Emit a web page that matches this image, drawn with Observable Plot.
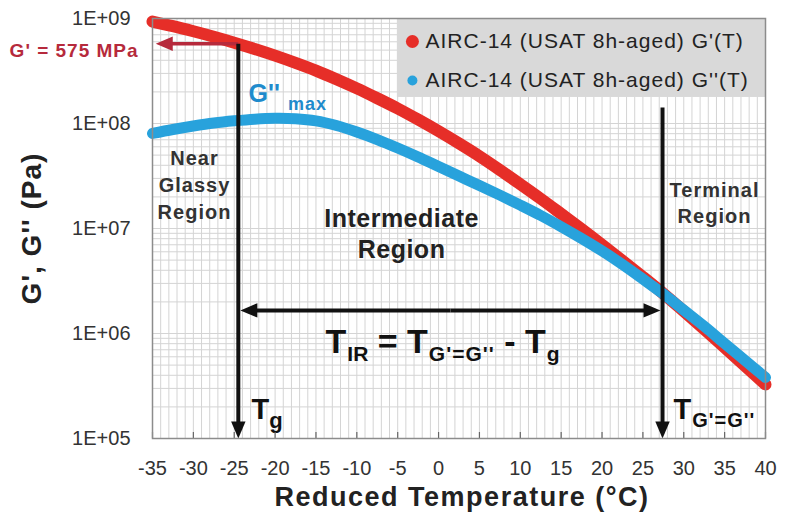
<!DOCTYPE html>
<html>
<head>
<meta charset="utf-8">
<script src="https://cdn.jsdelivr.net/npm/d3@7"></script>
<script src="https://cdn.jsdelivr.net/npm/@observablehq/plot@0.6"></script>
<style>
  html, body { margin: 0; padding: 0; background: #fff; }
  #chart { width: 792px; height: 527px; }
</style>
</head>
<body>
<div id="chart"></div>
<script>
// ---------- data ----------
const temperature = [-35, -32.5, -30, -27.5, -25, -22.5, -20, -17.5, -15, -12.5, -10, -7.5, -5, -2.5, 0,
  2.5, 5, 7.5, 10, 12.5, 15, 17.5, 20, 22.5, 25, 27.5, 30, 32.5, 35, 37.5, 40];
const gPrime = [9.35e8, 8.45e8, 7.55e8, 6.70e8, 5.89e8, 5.13e8, 4.43e8, 3.78e8, 3.19e8, 2.64e8, 2.16e8,
  1.74e8, 1.39e8, 1.09e8, 8.45e7, 6.46e7, 4.88e7, 3.61e7, 2.64e7, 1.92e7, 1.38e7, 9.89e6, 7.01e6,
  4.94e6, 3.46e6, 2.40e6, 1.63e6, 1.10e6, 7.36e5, 4.91e5, 3.27e5];
const gDoublePrime = [8.04e7, 8.77e7, 9.46e7, 1.01e8, 1.06e8, 1.10e8, 1.12e8, 1.11e8, 1.06e8, 9.57e7, 8.30e7,
  7.04e7, 5.85e7, 4.80e7, 3.89e7, 3.16e7, 2.57e7, 2.08e7, 1.67e7, 1.33e7, 1.04e7, 8.03e6, 6.11e6,
  4.54e6, 3.30e6, 2.38e6, 1.67e6, 1.17e6, 8.03e5, 5.53e5, 3.81e5];

const seriesNames = ["AIRC-14 (USAT 8h-aged) G'(T)", "AIRC-14 (USAT 8h-aged) G''(T)"];
const xTickValues = [-35, -30, -25, -20, -15, -10, -5, 0, 5, 10, 15, 20, 25, 30, 35, 40];
const yTickValues = [1e5, 1e6, 1e7, 1e8, 1e9];
const xDomain = [-35, 40];
const yDomain = [1e5, 1e9];

const xTitle = "Reduced Temperature (°C)";
const yTitle = "G', G'' (Pa)";

// key temperatures / moduli of the annotation
const Tg = -24.5;
const Tcross = 27.4;
const gPrimeAtTg = 575e6;
const crossLineTop = 1.42e8;
const spanArrowLevel = 1.66e6;
const redArrowTip = -34.6;
const lineHalfWidth = 0.25; // in degrees, so span arrow tips touch the vertical lines

// legend placement (in data units)
const legendBox = [{x1: -5.04, x2: 40, y1: 1.77e8, y2: 1e9}];
const legendDotX = -3.2;
const legendTextX = -1.6;
const legendY = [6.04e8, 2.57e8];

// text annotations (positions in data units)
const regionLabels = [
  {text: "Near\nGlassy\nRegion", x: -29.86, y: 1.245e7, size: 20, lh: 1.33, color: "#333"},
  {text: "Intermediate\nRegion", x: -4.53, y: 5.18e6, size: 25, lh: 1.24, color: "#222"},
  {text: "Terminal\nRegion", x: 33.76, y: 1.117e7, size: 20, lh: 1.3, color: "#333"}
];
const subscriptLabels = [
  {text: "T_{IR} = T_{G'=G''} - T_{g}", x: -13.83, y: 6.59e5, size: 34, subSize: 21, subDy: 8, subDx: 1, color: "#111"},
  {text: "T_{g}", x: -22.89, y: 1.549e5, size: 29, subSize: 22, subDy: 9, subDx: 0, color: "#111"},
  {text: "T_{G'=G''}", x: 28.75, y: 1.549e5, size: 29, subSize: 20, subDy: 8, subDx: 1, color: "#111"},
  {text: "G''_{max}", x: -23.25, y: 1.585e8, size: 25, subSize: 18, subDy: 8, subDx: 8, color: "#1f8bcc"}
];
const modulusLabel = [{text: "G' = 575 MPa", x: -36.7, y: 4.96e8}];

const letterSpacing = {
  "AIRC-14 (USAT 8h-aged) G'(T)": "1px",
  "AIRC-14 (USAT 8h-aged) G''(T)": "1px",
  "NearGlassyRegion": "1px",
  "TerminalRegion": "1px",
  "IntermediateRegion": "0.5px",
  "G' = 575 MPa": "1px",
  "Reduced Temperature (°C)": "1.5px",
  "G', G'' (Pa)": "1px"
};

// ---------- styling ----------
const FONT = "'Liberation Sans', Arial, Helvetica, sans-serif";
const RED = "#e62e28";
const BLUE = "#28a2dc";
const DARKRED = "#b62a3c";
const GRID = "#d4d4d4";

// filled arrow heads (tip at the anchor point)
const headOf = (dx, dy) => ({
  draw(ctx, size) {
    const r = Math.sqrt(size / Math.PI);
    const L = 2 * r, W = 0.85 * r;
    const bx = -dx * L, by = -dy * L;
    const px = -dy * W, py = dx * W;
    ctx.moveTo(0, 0);
    ctx.lineTo(bx + px, by + py);
    ctx.lineTo(bx - px, by - py);
    ctx.closePath();
  }
});
const headLeft = headOf(-1, 0), headRight = headOf(1, 0), headDown = headOf(0, 1);
const HEAD_R = 8.5;

// ---------- derived tables ----------
const gPrimeData = temperature.map((t, i) => ({t, v: gPrime[i]}));
const gDoublePrimeData = temperature.map((t, i) => ({t, v: gDoublePrime[i]}));
const gridX = d3.range(xDomain[0], xDomain[1] + 1, 1);
const gridY = [];
for (let e = 5; e < 9; e++) for (let k = 1; k < 10; k++) gridY.push(k * Math.pow(10, e));
gridY.push(1e9);
const tickMarkTop = 1.14e5;
const spanMid = (Tg + Tcross) / 2;
const spanTips = [Tg + lineHalfWidth, Tcross - lineHalfWidth];

const shaft = {x1: "x1", y1: "y1", x2: "x2", y2: "y2", headLength: 0, strokeLinecap: "butt"};

const marks = [
  Plot.ruleX(gridX, {stroke: GRID, strokeWidth: 1}),
  Plot.ruleY(gridY, {stroke: GRID, strokeWidth: 1}),
  Plot.rect(legendBox, {x1: "x1", x2: "x2", y1: "y1", y2: "y2", fill: "#d9d9d9"}),
  Plot.dot([legendY[0]], {x: legendDotX, y: d => d, r: 6.5, fill: RED}),
  Plot.dot([legendY[1]], {x: legendDotX, y: d => d, r: 5, fill: BLUE}),
  Plot.text(seriesNames.map((n, i) => ({n, y: legendY[i]})), {x: legendTextX, y: "y", text: "n", textAnchor: "start", fontSize: 21, fill: "#222"}),
  Plot.line(gPrimeData, {x: "t", y: "v", stroke: RED, strokeWidth: 12, curve: "catmull-rom", strokeLinecap: "round"}),
  Plot.line(gDoublePrimeData, {x: "t", y: "v", stroke: BLUE, strokeWidth: 11, curve: "catmull-rom", strokeLinecap: "round"}),
  // red arrow to the y axis
  Plot.arrow([{x1: Tg, y1: gPrimeAtTg, x2: redArrowTip, y2: gPrimeAtTg}], {...shaft, stroke: DARKRED, strokeWidth: 3.5, insetEnd: 10}),
  Plot.dot([{x: redArrowTip, y: gPrimeAtTg}], {x: "x", y: "y", r: HEAD_R, symbol: headLeft, fill: DARKRED, stroke: "none"}),
  // vertical arrows at Tg and T(G'=G'')
  Plot.arrow([{x1: Tg, y1: gPrimeAtTg, x2: Tg, y2: yDomain[0]}, {x1: Tcross, y1: crossLineTop, x2: Tcross, y2: yDomain[0]}],
    {...shaft, stroke: "#111", strokeWidth: 4, insetEnd: 10}),
  Plot.dot([Tg, Tcross], {x: d => d, y: () => yDomain[0], r: HEAD_R, symbol: headDown, fill: "#111", stroke: "none"}),
  // double arrow spanning the intermediate region
  Plot.arrow([{x1: spanMid, x2: spanTips[0]}, {x1: spanMid, x2: spanTips[1]}],
    {...shaft, y1: () => spanArrowLevel, y2: () => spanArrowLevel, stroke: "#111", strokeWidth: 4, insetEnd: 10}),
  Plot.dot([spanTips[0]], {x: d => d, y: () => spanArrowLevel, r: HEAD_R, symbol: headLeft, fill: "#111", stroke: "none"}),
  Plot.dot([spanTips[1]], {x: d => d, y: () => spanArrowLevel, r: HEAD_R, symbol: headRight, fill: "#111", stroke: "none"}),
  ...regionLabels.map(d => Plot.text([d], {x: "x", y: "y", text: "text", fontSize: d.size, fontWeight: "bold", fill: d.color, lineHeight: d.lh, lineAnchor: "bottom"})),
  ...subscriptLabels.map(d => Plot.text([d], {x: "x", y: "y", text: "text", fontSize: d.size, fontWeight: "bold", fill: d.color, textAnchor: "start", lineAnchor: "bottom"})),
  Plot.text(modulusLabel, {x: "x", y: "y", text: "text", fontSize: 19, fontWeight: "bold", fill: DARKRED, textAnchor: "end"}),
  Plot.text([yTitle], {frameAnchor: "left", dx: -120, rotate: -90, textAnchor: "middle", lineAnchor: "middle", fontSize: 28, fontWeight: "bold", fill: "#222"}),
  Plot.text([xTitle], {frameAnchor: "bottom", dy: 59, dx: 3, textAnchor: "middle", lineAnchor: "middle", fontSize: 27, fontWeight: "bold", fill: "#222"}),
  Plot.ruleX(xTickValues, {y1: yDomain[0], y2: tickMarkTop, stroke: "#666", strokeWidth: 1.2}),
  Plot.frame({stroke: "#8c8c8c", strokeWidth: 1.5})
];

const chart = Plot.plot({
  width: 792,
  height: 527,
  marginLeft: 152,
  marginRight: 27,
  marginTop: 18,
  marginBottom: 89,
  style: {fontFamily: FONT, fontSize: "20px", color: "#333", background: "#fff", overflow: "visible"},
  x: {domain: xDomain, ticks: xTickValues, tickSize: 0, tickPadding: 22, label: null, tickFormat: d => String(d)},
  y: {type: "log", domain: yDomain, ticks: yTickValues, tickSize: 0, tickPadding: 22, label: null,
      tickFormat: d => "1E+" + String(Math.round(Math.log10(d))).padStart(2, "0")},
  marks
});

document.getElementById("chart").appendChild(chart);

// ---------- post-processing: subscripts and letter spacing ----------
const subSpec = new Map(subscriptLabels.map(d => [d.text, d]));
d3.select(chart).selectAll("text").each(function () {
  const raw = this.textContent;
  const key = raw.replace(/\n/g, "");
  if (letterSpacing[key]) this.setAttribute("letter-spacing", letterSpacing[key]);
  const spec = subSpec.get(raw);
  if (!spec) return;
  const parts = raw.split(/_\{([^}]*)\}/);
  this.textContent = "";
  let offset = 0;
  parts.forEach((p, i) => {
    if (!p) return;
    const t = d3.select(this).append("tspan").text(p);
    if (i % 2 === 1) {
      t.attr("font-size", spec.subSize).attr("dy", spec.subDy - offset).attr("dx", spec.subDx);
      if (p.length > 2) t.attr("letter-spacing", "1px");
      offset = spec.subDy;
    } else {
      t.attr("dy", -offset);
      offset = 0;
    }
  });
});
</script>
</body>
</html>
